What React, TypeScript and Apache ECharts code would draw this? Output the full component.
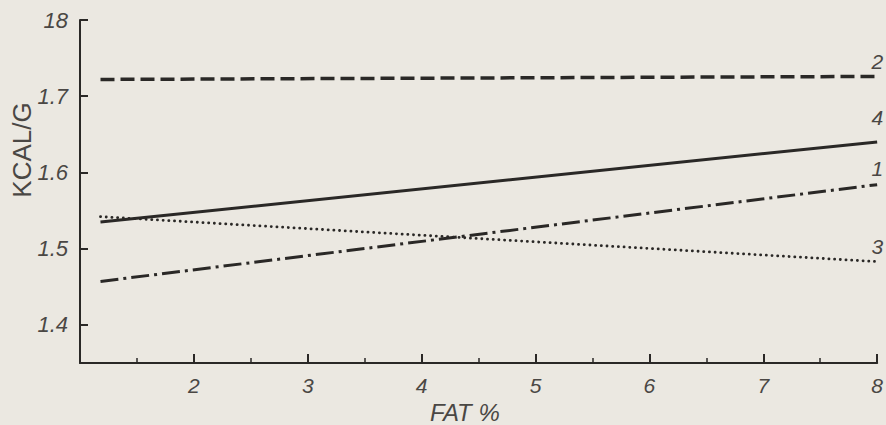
import React, { useEffect, useRef } from "react";
import * as echarts from "echarts";

const fatPct = [1.18, 8];
const series1 = [1.457, 1.584];
const series2 = [1.722, 1.726];
const series3 = [1.542, 1.483];
const series4 = [1.535, 1.64];
const yTickValues = [1.4, 1.5, 1.6, 1.7, 1.8];
const yTickLabels = ["1.4", "1.5", "1.6", "1.7", "18"];
const xTickValues = [2, 3, 4, 5, 6, 7, 8];
const seriesNames = ["1", "2", "3", "4"];

const INK = "#2a2826";
const TEXT = "#4a4744";
const FONT = "'Liberation Sans', 'DejaVu Sans', sans-serif";

export default function App() {
  const ref = useRef<HTMLDivElement>(null);
  useEffect(() => {
    document.body.style.margin = "0";
    const chart = echarts.init(ref.current!, null, { renderer: "svg" });
    const mk = (vals: number[]) => fatPct.map((x, i) => [x, vals[i]]);
    const mkSeries = (name: string, vals: number[], type: any, width: number, dy: number, cap = "butt") => ({
      name,
      type: "line",
      data: mk(vals),
      symbol: "none",
      silent: true,
      lineStyle: { color: INK, width, type, cap },
      endLabel: {
        show: true,
        formatter: name,
        align: "right",
        verticalAlign: "bottom",
        distance: 0,
        offset: [6, dy],
        color: TEXT,
        fontFamily: FONT,
        fontStyle: "italic",
        fontSize: 21,
      },
    });
    chart.setOption({
      animation: false,
      backgroundColor: "#ebe8e1",
      grid: { left: 80, right: 6, top: 20, bottom: 62 },
      xAxis: {
        type: "value",
        min: 1,
        max: 8,
        interval: 1,
        axisLine: { show: true, lineStyle: { color: INK, width: 2 } },
        axisTick: { show: true, inside: true, length: 9, lineStyle: { color: INK, width: 2 } },
        minorTick: { show: true, splitNumber: 2, length: 5, lineStyle: { color: INK, width: 1.5 } },
        splitLine: { show: false },
        axisLabel: {
          margin: 12,
          color: TEXT,
          fontFamily: FONT,
          fontStyle: "italic",
          fontSize: 21,
          formatter: (v: number) => (xTickValues.includes(v) ? String(v) : ""),
        },
      },
      yAxis: {
        type: "value",
        min: 1.35,
        max: 1.8,
        splitNumber: 5,
        axisLine: { show: true, lineStyle: { color: INK, width: 2 } },
        axisTick: { show: true, inside: true, length: 8, lineStyle: { color: INK, width: 2 } },
        splitLine: { show: false },
        axisLabel: {
          margin: 12,
          color: TEXT,
          fontFamily: FONT,
          fontStyle: "italic",
          fontSize: 22,
          formatter: (v: number) => {
            const i = yTickValues.findIndex((t) => Math.abs(t - v) < 1e-6);
            return i >= 0 ? yTickLabels[i] : "";
          },
        },
      },
      graphic: [
        {
          type: "text",
          x: 22,
          y: 150,
          rotation: Math.PI / 2,
          style: {
            text: "KCAL/G",
            fill: TEXT,
            font: `26px ${FONT}`,
            align: "center",
            verticalAlign: "middle",
          },
        },
        {
          type: "text",
          x: 430,
          y: 400,
          style: {
            text: "FAT %",
            fill: TEXT,
            font: `italic 24px ${FONT}`,
            align: "left",
            verticalAlign: "top",
          },
        },
      ],
      series: [
        mkSeries(seriesNames[0], series1, [18, 5, 3, 5], 3, -6),
        mkSeries(seriesNames[1], series2, [14, 6], 3.5, -4),
        mkSeries(seriesNames[2], series3, [0.1, 5.6], 2.8, -5, "round"),
        mkSeries(seriesNames[3], series4, "solid", 3, -14),
      ],
    });
    return () => chart.dispose();
  }, []);
  return <div ref={ref} style={{ width: 886, height: 425 }} />;
}
